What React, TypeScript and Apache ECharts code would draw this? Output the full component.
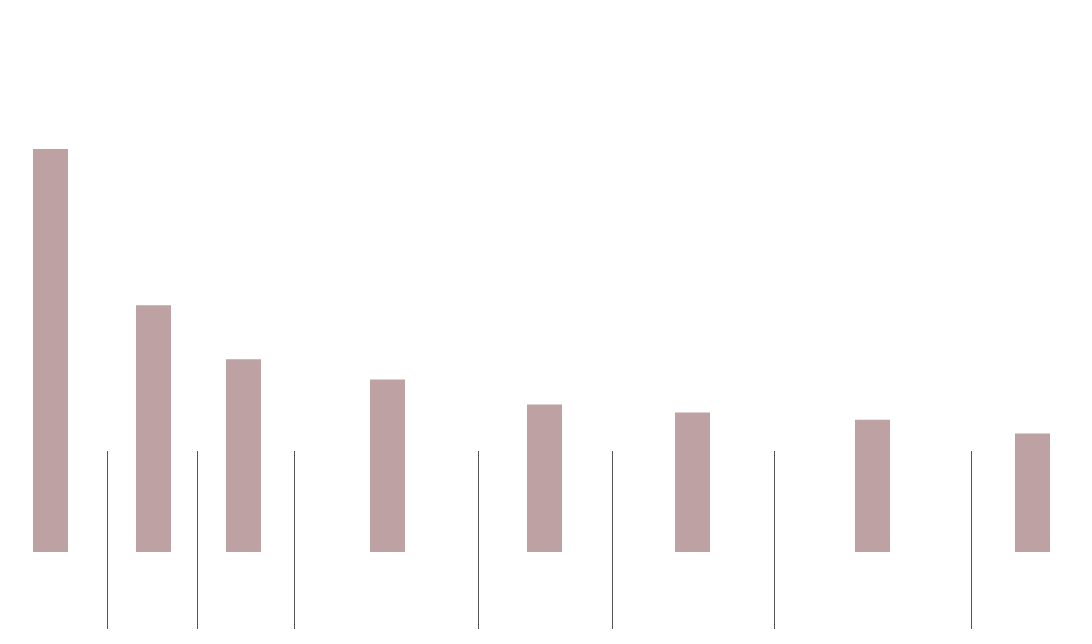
import React, { useEffect, useRef } from "react";
import * as echarts from "echarts";

// Bar positions (x, in axis units) and bar values
const barCenters = [50.5, 153.5, 243.5, 387.5, 544.5, 692.5, 872.5, 1032.5];
const barValues = [100, 61.2, 47.8, 42.8, 36.6, 34.6, 32.8, 29.4];
// Group separator positions (x, in axis units)
const separators = [107, 197, 294, 478, 612, 774, 971];

const X_MIN = 0;
const X_MAX = 1092;

export default function App() {
  const ref = useRef<HTMLDivElement>(null);
  useEffect(() => {
    if (!ref.current) return;
    const chart = echarts.init(ref.current, undefined, { renderer: "svg" });
    const hiddenX = (gridIndex: number) => ({
      type: "value",
      gridIndex,
      min: X_MIN,
      max: X_MAX,
      show: false,
    });
    chart.setOption({
      animation: false,
      backgroundColor: "#ffffff",
      grid: [
        { left: 0, right: 0, top: 149, bottom: 92 },
        { left: 0, right: 0, top: 451, bottom: 15 },
      ],
      xAxis: [hiddenX(0), hiddenX(1)],
      yAxis: [
        { type: "value", gridIndex: 0, min: 0, max: 100, show: false },
        { type: "value", gridIndex: 1, min: 0, max: 1, show: false },
      ],
      series: [
        {
          type: "bar",
          xAxisIndex: 0,
          yAxisIndex: 0,
          barWidth: 35,
          itemStyle: { color: "#bea1a3" },
          data: barCenters.map((x, i) => [x, barValues[i]]),
        },
        {
          type: "line",
          xAxisIndex: 1,
          yAxisIndex: 1,
          data: [],
          silent: true,
          markLine: {
            silent: true,
            symbol: ["none", "none"],
            label: { show: false },
            lineStyle: { color: "#555555", width: 1, type: "solid" },
            data: separators.map((x) => ({ xAxis: x })),
          },
        },
      ],
    });
    return () => chart.dispose();
  }, []);
  return (
    <div
      ref={ref}
      style={{ position: "fixed", left: 0, top: 0, width: 1092, height: 644 }}
    />
  );
}
